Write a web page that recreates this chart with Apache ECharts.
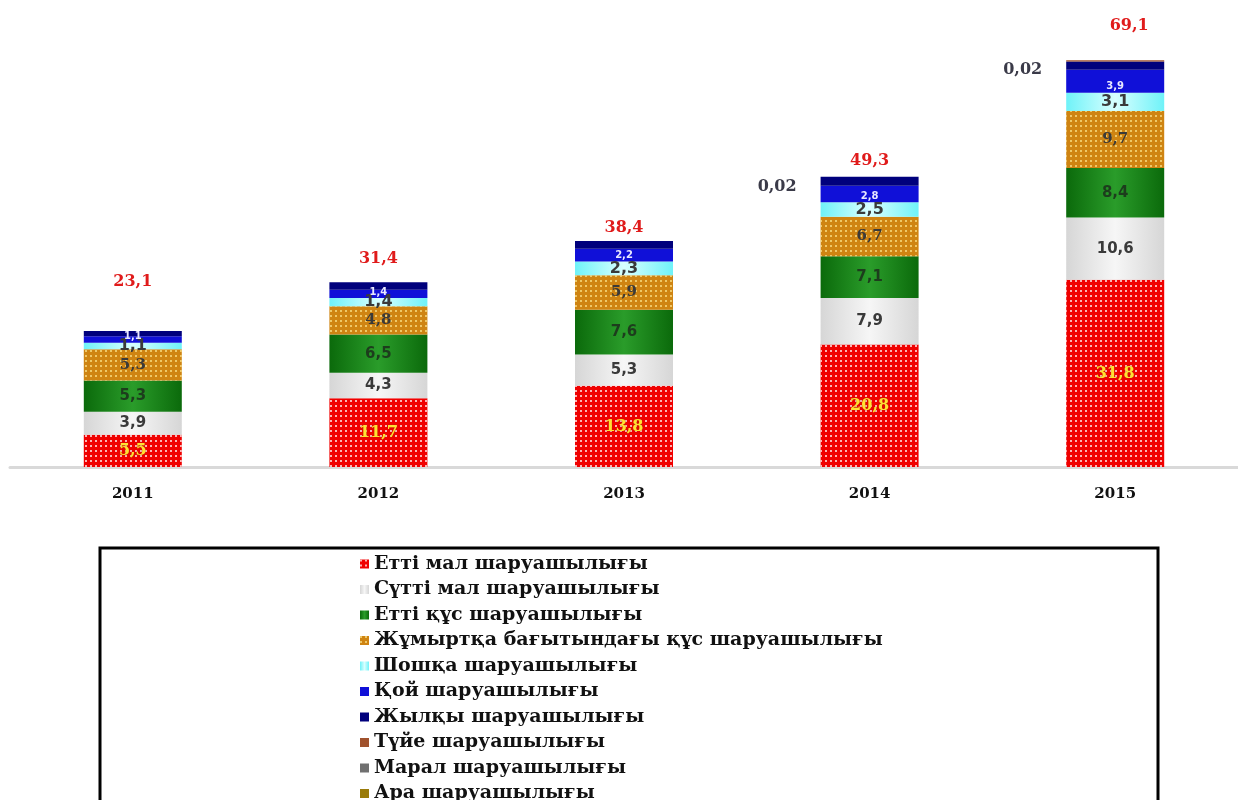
<!DOCTYPE html>
<html>
<head>
<meta charset="utf-8">
<script src="https://cdn.jsdelivr.net/npm/echarts@6/dist/echarts.min.js"></script>
<style>
  html, body { margin: 0; padding: 0; background: #fff; }
  #panel { width: 1238px; height: 800px; }
</style>
</head>
<body>
<div id="panel"></div>
<script>
// data
const years = ['2011', '2012', '2013', '2014', '2015'];
const ettiMal = [5.5, 11.7, 13.8, 20.8, 31.8];
const suttiMal = [3.9, 4.3, 5.3, 7.9, 10.6];
const ettiQus = [5.3, 6.5, 7.6, 7.1, 8.4];
const zhumyrtqa = [5.3, 4.8, 5.9, 6.7, 9.7];
const shoshqa = [1.1, 1.4, 2.3, 2.5, 3.1];
const qoi = [1.1, 1.4, 2.2, 2.8, 3.9];
const zhylqy = [0.9, 1.3, 1.3, 1.5, 1.4];
const tuie = [0, 0, 0, 0, 0.2];
const maral = [0, 0, 0, 0.02, 0.02];
const ara = [0, 0, 0, 0, 0];
const totals = [23.1, 31.4, 38.4, 49.3, 69.1];

const names = [
  'Етті мал шаруашылығы',
  'Сүтті мал шаруашылығы',
  'Етті құс шаруашылығы',
  'Жұмыртқа бағытындағы құс шаруашылығы',
  'Шошқа шаруашылығы',
  'Қой шаруашылығы',
  'Жылқы шаруашылығы',
  'Түйе шаруашылығы',
  'Марал шаруашылығы',
  'Ара шаруашылығы',
];

const SERIF = "'DejaVu Serif', 'Liberation Serif', serif";
const SANS = "'DejaVu Sans', Tahoma, sans-serif";

// number with comma, empty for zeros
const fmt = (p) => (p.value ? String(p.value).replace('.', ',') : '');

const hGrad = (edge, mid) =>
  new echarts.graphic.LinearGradient(0, 0, 1, 0, [
    { offset: 0, color: edge },
    { offset: 0.5, color: mid },
    { offset: 1, color: edge },
  ]);

const dots = {
  symbol: 'rect',
  symbolSize: 1,
  dashArrayX: [2, 3],
  dashArrayY: [2, 3],
  color: 'rgba(255,255,255,0.7)',
};

const darkLabel = {
  show: true,
  position: 'inside',
  formatter: fmt,
  color: '#3a3a3a',
  fontFamily: SANS,
  fontWeight: 'bold',
  fontSize: 15,
};

const stackBar = (name, data, itemStyle, label) => ({
  name: name,
  type: 'bar',
  stack: 'total',
  barWidth: 98,
  data: data,
  itemStyle: itemStyle,
  label: label || { show: false },
  emphasis: { disabled: true },
});

// total label offsets (the labels sit at uneven heights in the source)
const totalOff = [[0, -36], [0, -10], [0, 0], [0, -3], [14, -21]];

const chart = echarts.init(document.getElementById('panel'), null, { renderer: 'canvas' });

const option = {
  backgroundColor: '#fff',
  animation: false,
  grid: { left: 10, width: 1238, top: 55, height: 412 },
  xAxis: {
    type: 'category',
    data: years,
    axisLine: { lineStyle: { color: '#d9d9d9', width: 3 } },
    axisTick: { show: false },
    axisLabel: {
      margin: 20,
      color: '#111',
      fontFamily: SERIF,
      fontWeight: 'bold',
      fontSize: 15,
    },
  },
  yAxis: {
    type: 'value',
    min: 0,
    max: 70,
    show: false,
    splitLine: { show: false },
  },
  legend: {
    data: names,
    orient: 'vertical',
    left: 355,
    top: 549,
    height: 320,
    itemWidth: 9,
    itemHeight: 9,
    itemGap: 5.5,
    icon: 'rect',
    textStyle: {
      color: '#111',
      fontFamily: SERIF,
      fontWeight: 'bold',
      fontSize: 19,
      lineHeight: 20,
    },
  },
  graphic: [
    {
      type: 'rect',
      shape: { x: 100, y: 548, width: 1058, height: 300 },
      style: { fill: 'none', stroke: '#000', lineWidth: 3 },
    },
  ],
  series: [
    stackBar(names[0], ettiMal, { color: '#f00000', decal: dots }, {
      show: true,
      position: 'inside',
      formatter: fmt,
      color: '#ffe233',
      fontFamily: SERIF,
      fontWeight: 'bold',
      fontSize: 16,
      textShadowColor: 'rgba(120,60,0,0.6)',
      textShadowBlur: 2,
    }),
    stackBar(names[1], suttiMal, { color: hGrad('#d6d6d6', '#f6f6f6') }, darkLabel),
    stackBar(names[2], ettiQus, { color: hGrad('#0b6a0b', '#2a9c2a') }, Object.assign({}, darkLabel, { color: '#1d3d1d' })),
    stackBar(names[3], zhumyrtqa, { color: '#cf8412', decal: Object.assign({}, dots, { color: 'rgba(255,236,150,0.65)' }) }, Object.assign({}, darkLabel, { fontFamily: SERIF })),
    stackBar(names[4], shoshqa, { color: hGrad('#6ff2f8', '#d8ffff') }, Object.assign({}, darkLabel, { fontSize: 16 })),
    stackBar(names[5], qoi, { color: '#1010d8' }, {
      show: true,
      position: 'insideBottom',
      distance: 1,
      formatter: fmt,
      color: '#e8e8ff',
      fontFamily: SANS,
      fontWeight: 'bold',
      fontSize: 10,
    }),
    stackBar(names[6], zhylqy, { color: '#00007c' }),
    stackBar(names[7], tuie, { color: '#a0522d' }),
    stackBar(names[8], maral, { color: '#707070' }, {
      show: true,
      position: 'left',
      distance: 24,
      offset: [0, 10],
      formatter: fmt,
      color: '#3a3a48',
      fontFamily: SERIF,
      fontWeight: 'bold',
      fontSize: 16,
    }),
    stackBar(names[9], ara, { color: '#9a7b0a' }),
    {
      name: 'total',
      type: 'scatter',
      symbolSize: 0,
      silent: true,
      itemStyle: { opacity: 1 },
      data: totals.map((v, i) => ({
        value: v,
        label: { offset: totalOff[i] },
      })),
      label: {
        show: true,
        position: 'top',
        formatter: (p) => String(p.value).replace('.', ','),
        color: '#e01b1b',
        fontFamily: SERIF,
        fontWeight: 'bold',
        fontSize: 16,
      },
    },
  ],
};

chart.setOption(option);
</script>
</body>
</html>
